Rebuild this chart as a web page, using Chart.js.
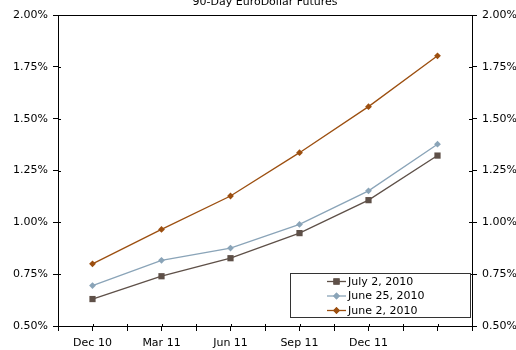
<!DOCTYPE html>
<html>
<head>
<meta charset="utf-8">
<script src="https://cdn.jsdelivr.net/npm/chart.js@4.4.0/dist/chart.umd.min.js"></script>
<style>
  html, body { margin: 0; padding: 0; background: #fff; }
  #wrap { width: 516px; height: 350px; position: relative; }
</style>
</head>
<body>
<div id="wrap"><canvas id="chart"></canvas></div>
<script>
'use strict'

let title = '90-Day EuroDollar Futures',
    categories = ['Dec 10', 'Mar 11', 'Jun 11', 'Sep 11', 'Dec 11', ''],
    yTicks = [0.5, 0.75, 1.0, 1.25, 1.5, 1.75, 2.0],
    july2 = [0.63, 0.74, 0.827, 0.948, 1.107, 1.322],
    june25 = [0.695, 0.817, 0.876, 0.99, 1.152, 1.377],
    june2 = [0.80, 0.966, 1.127, 1.336, 1.558, 1.803]

let font = {family: 'DejaVu Sans', size: 11}

// categories sit in the middle of each pair of ticks (x = 1, 3, 5 ...)
function toPoints(values) {
    return values.map((v, i) => ({x: i * 2 + 1, y: v}))
}

let frame = {
    id: 'frame',
    afterDraw(chart) {
        let ctx = chart.ctx, a = chart.chartArea
        ctx.save()
        ctx.strokeStyle = '#000'
        ctx.lineWidth = 1
        ctx.beginPath()
        ctx.moveTo(a.left, a.top + 0.5)
        ctx.lineTo(a.right, a.top + 0.5)
        // small tick stubs pointing inside
        let y = chart.scales.y
        yTicks.forEach(t => {
            let py = Math.round(y.getPixelForValue(t)) + 0.5
            ctx.moveTo(a.left, py); ctx.lineTo(a.left + 3, py)
            ctx.moveTo(a.right - 3, py); ctx.lineTo(a.right, py)
        })
        let x = chart.scales.x
        for (let i = 0; i <= 12; i++) {
            let px = Math.round(x.getPixelForValue(i)) + 0.5
            ctx.moveTo(px, a.bottom - 2); ctx.lineTo(px, a.bottom)
        }
        ctx.stroke()

        // title, partly cut at the top like the original
        ctx.fillStyle = '#000'
        ctx.font = '11px "DejaVu Sans"'
        ctx.textAlign = 'center'
        ctx.textBaseline = 'alphabetic'
        ctx.fillText(title, (a.left + a.right) / 2, 5)

        // legend box
        let bx = 290, by = 273, bw = 180, bh = 44
        ctx.fillStyle = '#fff'
        ctx.fillRect(bx, by, bw, bh)
        ctx.strokeStyle = '#333'
        ctx.strokeRect(bx + 0.5, by + 0.5, bw, bh)
        ctx.textAlign = 'left'
        ctx.textBaseline = 'middle'
        chart.data.datasets.forEach((ds, i) => {
            let ry = by + 8 + i * 14.5
            ctx.strokeStyle = ds.borderColor
            ctx.lineWidth = ds.borderWidth
            ctx.beginPath()
            ctx.moveTo(327, ry + 0.5)
            ctx.lineTo(346, ry + 0.5)
            ctx.stroke()
            ctx.fillStyle = ds.borderColor
            ctx.beginPath()
            Chart.helpers.drawPoint(ctx, {pointStyle: ds.pointStyle, rotation: 0, borderWidth: 0, radius: ds.pointRadius}, 336.5, ry + 0.5)
            ctx.fill()
            ctx.fillStyle = '#000'
            ctx.fillText(ds.label, 348, ry + 1)
        })
        ctx.restore()
    }
}

function series(label, values, color, style, radius) {
    return {
        label: label,
        data: toPoints(values),
        borderColor: color,
        backgroundColor: color,
        borderWidth: 1.3,
        pointStyle: style,
        pointRadius: radius,
        pointHoverRadius: radius,
        pointBorderWidth: 0,
        tension: 0
    }
}

let myChart = new Chart(document.getElementById('chart'), {
    type: 'line',
    data: {
        datasets: [
            series('July 2, 2010', july2, '#5e5048', 'rect', 4.4),
            series('June 25, 2010', june25, '#8aa4b8', 'rectRot', 3.4),
            series('June 2, 2010', june2, '#9c4f10', 'rectRot', 3.4)
        ]
    },
    options: {
        responsive: true,
        maintainAspectRatio: false,
        animation: false,
        layout: {padding: {top: 15, left: 0, right: 0, bottom: 0}},
        plugins: {legend: {display: false}, title: {display: false}, tooltip: {enabled: false}},
        scales: {
            x: {
                type: 'linear',
                min: 0,
                max: 12,
                afterBuildTicks: s => { s.ticks = []; for (let i = 0; i <= 12; i++) s.ticks.push({value: i}) },
                afterFit: s => { s.height = 24 },
                ticks: {
                    font: font,
                    color: '#000',
                    padding: 6,
                    maxRotation: 0,
                    autoSkip: false,
                    callback: v => v % 2 === 1 ? categories[(v - 1) / 2] : ''
                },
                grid: {drawOnChartArea: false, tickLength: 5, color: '#000'},
                border: {color: '#000', width: 1}
            },
            y: {
                position: 'left',
                min: 0.5,
                max: 2.0,
                afterBuildTicks: s => { s.ticks = yTicks.map(v => ({value: v})) },
                afterFit: s => { s.width = 58 },
                ticks: {font: font, color: '#000', padding: 5, callback: v => v.toFixed(2) + '%'},
                grid: {drawOnChartArea: false, tickLength: 5, color: '#000'},
                border: {color: '#000', width: 1}
            },
            y1: {
                position: 'right',
                min: 0.5,
                max: 2.0,
                afterBuildTicks: s => { s.ticks = yTicks.map(v => ({value: v})) },
                afterFit: s => { s.width = 44 },
                ticks: {font: font, color: '#000', padding: 5, callback: v => v.toFixed(2) + '%'},
                grid: {drawOnChartArea: false, tickLength: 5, color: '#000'},
                border: {color: '#000', width: 1}
            }
        }
    },
    plugins: [frame]
})
</script>
</body>
</html>
